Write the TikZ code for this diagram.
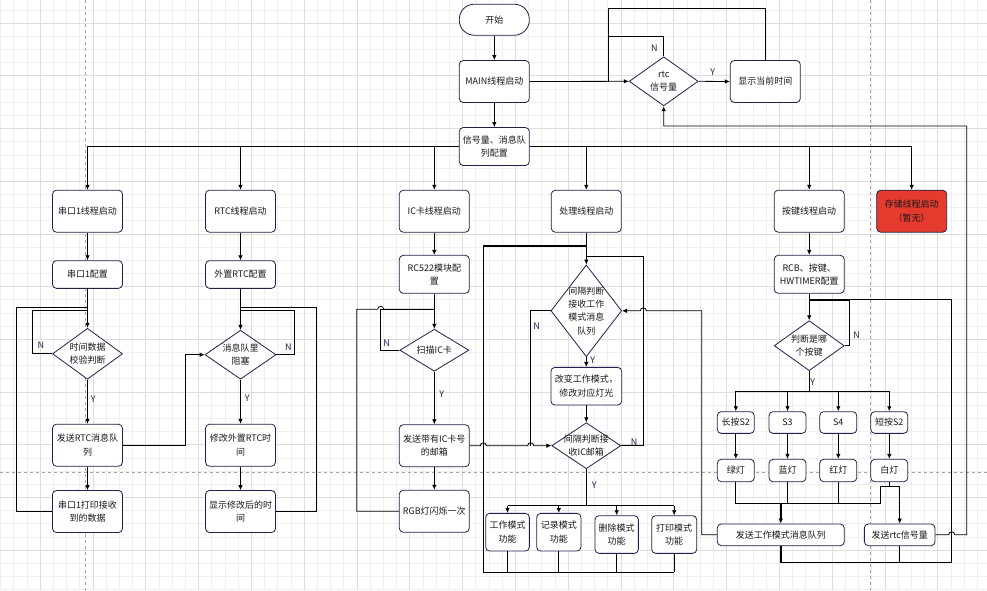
\documentclass[tikz,border=0pt]{standalone}
\usepackage{fontspec}
\setmainfont{Noto Sans CJK SC}
\usetikzlibrary{shapes.geometric,arrows.meta}
\definecolor{bd}{HTML}{1F2248}
\definecolor{gridmin}{HTML}{EFEFEF}
\definecolor{gridmaj}{HTML}{DDDDDD}
\definecolor{redfill}{HTML}{E53A2E}
\tikzset{
 box/.style={draw=bd, line width=0.8pt, rounded corners=4pt, fill=white, minimum width=70pt, minimum height=42pt, inner sep=0pt, align=center, font=\fontsize{9}{13.5}\selectfont, text=black!90},
 dia/.style={draw=bd, line width=0.8pt, diamond, fill=white, inner sep=0pt},
 dtext/.style={align=center, font=\fontsize{9}{13.4}\selectfont, text=black!90, inner sep=0pt},
 arr/.style={-{Latex[length=5pt,width=4.5pt]}, line width=0.8pt, black},
 ln/.style={line width=0.8pt, black},
 tk/.style={line width=1.5pt, black},
 yn/.style={font=\fontsize{9}{10}\selectfont, text=bd, inner sep=0pt},
 pgbrk/.style={draw=black!35, dashed, line width=0.6pt}
}
\begin{document}
\begin{tikzpicture}[x=1pt,y=-1pt]
\useasboundingbox (0,0) rectangle (987,590);
\clip (0,0) rectangle (987,590);
\fill[white] (0,0) rectangle (987,590);
% grid
\foreach \i in {-3,...,72} {\draw[gridmin,line width=0.5pt] ({40+13.2*\i},0) -- ({40+13.2*\i},590);}
\foreach \j in {-2,...,44} {\draw[gridmin,line width=0.5pt] (0,{23+13.175*\j}) -- (987,{23+13.175*\j});}
\foreach \i in {-1,...,18} {\draw[gridmaj,line width=0.6pt] ({40+52.8*\i},0) -- ({40+52.8*\i},590);}
\foreach \j in {-1,...,11} {\draw[gridmaj,line width=0.6pt] (0,{23+52.7*\j}) -- (987,{23+52.7*\j});}
\draw[pgbrk] (85,0) -- (85,590);
\draw[pgbrk] (870,0) -- (870,590);
\draw[pgbrk] (0,472) -- (987,472);

% ---------- nodes ----------
\node[box, minimum height=31pt, rounded corners=15pt] (start) at (494.3,19.7) {开始};
\node[box] (main) at (494.3,81.5) {MAIN线程启动};
\node[box, minimum height=38pt] (cfg) at (494.3,146.5) {信号量、消息队\\列配置};
\node[dia, minimum width=69pt, minimum height=49pt, label={[dtext]center:rtc\\信号量}] (rtcd) at (663.7,81.3) {};
\node[box] (show) at (765.3,81.5) {显示当前时间};

\node[box] (u1) at (87.5,211.2) {串口1线程启动};
\node[box] (r1) at (240.5,211.2) {RTC线程启动};
\node[box] (i1) at (434.3,211.2) {IC卡线程启动};
\node[box] (p1) at (586.3,211.2) {处理线程启动};
\node[box] (k1) at (809.2,211.2) {按键线程启动};
\node[box, fill=redfill] (s1) at (911.7,211.2) {存储线程启动\\（暂无）};

% column U
\node[box, minimum height=27.7pt] (u2) at (87.5,274.5) {串口1配置};
\node[dia, minimum width=70pt, minimum height=51pt, label={[dtext]center:时间数据\\校验判断}] (ud) at (87.5,353.8) {};
\node[box] (u3) at (87.5,445.2) {发送RTC消息队\\列};
\node[box] (u4) at (87.5,511.5) {串口1打印接收\\到的数据};

% column R
\node[box, minimum height=27.7pt] (r2) at (240.5,274.5) {外置RTC配置};
\node[dia, minimum width=71pt, minimum height=49pt, label={[dtext]center:消息队里\\阻塞}] (rd) at (240.5,354.7) {};
\node[box] (r3) at (240.5,445.2) {修改外置RTC时\\间};
\node[box] (r4) at (240.5,511.5) {显示修改后的时\\间};

% column I
\node[box, minimum height=38pt] (i2) at (434.3,274.3) {RC522模块配\\置};
\node[dia, minimum width=69pt, minimum height=42pt, label={[dtext]center:扫描IC卡}] (id) at (434.3,350.2) {};
\node[box] (i3) at (434.3,445.7) {发送带有IC卡号\\的邮箱};
\node[box] (i4) at (434.3,511.2) {RGB灯闪烁一次};

% column P
\node[dia, minimum width=70.7pt, minimum height=91.7pt, label={[dtext]center:间隔判断\\接收工作\\模式消息\\队列}] (pd) at (586.3,310.8) {};
\node[box, minimum width=70.7pt, minimum height=37.7pt] (p2) at (586.3,386.2) {改变工作模式，\\修改对应灯光};
\node[dia, minimum width=69pt, minimum height=46pt, label={[dtext]center:间隔判断接\\收IC邮箱}] (pd2) at (586.3,445.7) {};
\node[box, minimum width=43.7pt, minimum height=37.7pt] (f1) at (507.5,532.2) {工作模式\\功能};
\node[box, minimum width=44.3pt, minimum height=37.7pt] (f2) at (558.8,532.2) {记录模式\\功能};
\node[box, minimum width=43.3pt, minimum height=37.7pt] (f3) at (616.7,534.5) {删除模式\\功能};
\node[box, minimum width=45pt, minimum height=37.7pt] (f4) at (674.2,534.5) {打印模式\\功能};

% column K
\node[box, minimum height=38pt] (k2) at (809.2,274.3) {RCB、按键、\\HWTIMER配置};
\node[dia, minimum width=70pt, minimum height=50pt, label={[dtext]center:判断是哪\\个按键}] (kd) at (809.2,345.7) {};
\node[box, minimum width=37pt, minimum height=21.7pt] (b1) at (735.8,422.5) {长按S2};
\node[box, minimum width=37pt, minimum height=21.7pt] (b2) at (787.5,422.5) {S3};
\node[box, minimum width=37pt, minimum height=21.7pt] (b3) at (838.3,422.5) {S4};
\node[box, minimum width=37pt, minimum height=21.7pt] (b4) at (889.3,422.5) {短按S2};
\node[box, minimum width=37pt, minimum height=22.4pt] (l1) at (735.8,470.5) {绿灯};
\node[box, minimum width=37pt, minimum height=22.4pt] (l2) at (787.5,470.5) {蓝灯};
\node[box, minimum width=37pt, minimum height=22.4pt] (l3) at (838.3,470.5) {红灯};
\node[box, minimum width=37pt, minimum height=22.4pt] (l4) at (889.3,470.5) {白灯};
\node[box, minimum width=127pt, minimum height=21.7pt] (kq) at (780.8,534.8) {发送工作模式消息队列};
\node[box, minimum width=70.7pt, minimum height=21.7pt] (kr) at (899.7,534.8) {发送rtc信号量};

% junction coordinates
\coordinate (jtop) at (608.3,81.5);
\coordinate (jrtcN) at (608.3,36);

% ---------- connectors: top ----------
\draw[arr] (start) -- (main);
\draw[arr] (main) -- (cfg);
\draw[arr] (main.east) -- (rtcd.west);
\draw[arr] (rtcd.east) -- node[yn, above=5pt, pos=0.45] {Y} (show.west);
\draw[ln] (show.north) |- (608.3,8.3) -- (jtop);
\draw[ln] (rtcd.north) |- (jrtcN);
\node[yn] (nrtc) at (654.3,47.7) {N};
\draw[arr] (kr.east) -- (948.7,534.8) arc[start angle=180,end angle=0,radius=3pt] -- (966.7,534.8) -- (966.7,126) -| (rtcd.south);

% bus
\draw[arr] (cfg.west) -| (u1.north);
\draw[arr] (cfg.west) -| (r1.north);
\draw[arr] (cfg.west) -| (i1.north);
\draw[arr] (cfg.east) -| (p1.north);
\draw[arr] (cfg.east) -| (k1.north);
\draw[arr] (cfg.east) -| (s1.north);

% ---------- column U ----------
\draw[arr] (u1) -- (u2);
\draw[arr] (u2) -- (ud.north);
\draw[ln] (ud.west) -- (32.3,353.8) -- (32.3,310) -- (87.5,310);
\draw[ln] (u4.west) -- (16.7,511.5) -- (16.7,307.3) -- (87.5,307.3);
\node[yn] (nu) at (41,345) {N};
\draw[arr] (ud.south) -- (u3.north);
\node[yn] (yu) at (93.3,399) {Y};
\draw[arr] (u3) -- (u4);
\draw[arr] (u3.east) -- (185,445.2) |- (rd.west);

% ---------- column R ----------
\draw[arr] (r1) -- (r2);
\draw[arr] (r2) -- (rd.north);
\draw[ln] (rd.east) -- (294.3,354.7) -- (294.3,310) -- (240.5,310);
\draw[ln] (r4.east) -- (316.7,511.5) -- (316.7,307.3) -- (240.5,307.3);
\node[yn] (nr) at (288.3,346.7) {N};
\draw[arr] (rd.south) -- (r3.north);
\node[yn] (yr) at (247.3,397.7) {Y};
\draw[arr] (r3) -- (r4);

% ---------- column I ----------
\draw[arr] (i1) -- (i2);
\draw[arr] (i2) -- (id.north);
\draw[ln] (id.west) -- (380.7,350.2) -- (380.7,309.3) -- (434.3,309.3);
\draw[ln] (i4.west) -- (356.7,511.2) -- (356.7,309.3) -- (377.7,309.3) arc[start angle=180,end angle=0,radius=3pt] -- (434.3,309.3);
\node[yn] (ni) at (386.7,342.7) {N};
\draw[arr] (id.south) -- (i3.north);
\node[yn] (yi) at (441.7,394.3) {Y};
\draw[arr] (i3) -- (i4);
\draw[arr] (i3.east) -- (480.3,445.7) arc[start angle=180,end angle=0,radius=3pt] -- (527.7,445.7) arc[start angle=180,end angle=0,radius=3pt] -- (pd2.west);

% ---------- column P ----------
\draw[arr] (p1) -- (pd.north);
\draw[tk] (586.3,246) -- (483.3,246) -- (483.3,572.3) -- (674.2,572.3);
\draw[ln] (f1.south) -- (507.5,572.3);
\draw[ln] (f2.south) -- (558.8,572.3);
\draw[ln] (f3.south) -- (616.7,572.3);
\draw[ln] (f4.south) -- (674.2,572.3);
\draw[ln] (pd2.east) -- (643.3,445.7) -- (643.3,256) -- (586.3,256);
\node[yn] (npd2) at (634,441.7) {N};
\draw[ln] (pd.west) -- (530.7,310.8) -- (530.7,445.7);
\node[yn] (npd) at (536.7,325.7) {N};
\draw[arr] (pd.south) -- (p2.north);
\node[yn] (ypd) at (592.7,360.5) {Y};
\draw[arr] (p2) -- (pd2.north);
\draw[ln] (pd2.south) -- (586.3,505.7);
\node[yn] (ypd2) at (594.3,485) {Y};
\draw[ln] (507.5,505.7) -- (674.2,505.7);
\draw[arr] (507.5,505.7) -- (f1.north);
\draw[arr] (558.8,505.7) -- (f2.north);
\draw[arr] (616.7,505.7) -- (f3.north);
\draw[arr] (674.2,505.7) -- (f4.north);
\draw[arr] (kq.west) -- (701.7,534.8) -- (701.7,310.8) -- (646.3,310.8) arc[start angle=0,end angle=180,radius=3pt] -- (pd.east);

% ---------- column K ----------
\draw[arr] (k1) -- (k2);
\draw[arr] (k2) -- (kd.north);
\draw[ln] (kd.east) -- (849.7,345.7) -- (849.7,300.7) -- (809.2,300.7);
\node[yn] (nk) at (856.7,335) {N};
\draw[tk] (kq.south) -- (780.8,562.7) -- (951.7,562.7) -- (951.7,299.3) -- (809.2,299.3);
\draw[ln] (kr.south) -- (899.7,562.7);
\draw[ln] (kd.south) -- (809.2,391);
\node[yn] (yk) at (812.7,381.7) {Y};
\draw[ln] (735.8,391) -- (889.3,391);
\draw[arr] (735.8,391) -- (b1.north);
\draw[arr] (787.5,391) -- (b2.north);
\draw[arr] (838.3,391) -- (b3.north);
\draw[arr] (889.3,391) -- (b4.north);
\draw[arr] (b1) -- (l1);
\draw[arr] (b2) -- (l2);
\draw[arr] (b3) -- (l3);
\draw[arr] (b4) -- (l4);
\draw[ln] (l1.south) -- (735.8,503.3) -- (880,503.3) -- (880,486) -- (899.7,486);
\draw[ln] (l2.south) -- (787.5,503.3);
\draw[ln] (l3.south) -- (838.3,503.3);
\draw[ln] (l4.south) -- (889.3,486);
\draw[arr] (899.7,486) -- (kr.north);
\draw[arr, line width=1.4pt] (780.8,503.3) -- (kq.north);
\end{tikzpicture}
\end{document}
